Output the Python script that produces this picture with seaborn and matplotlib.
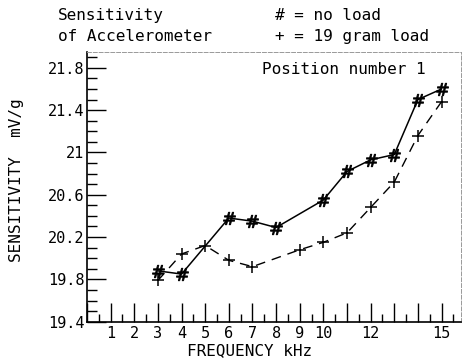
import matplotlib
matplotlib.use("Agg")
import matplotlib.pyplot as plt
import seaborn as sns
import pandas as pd
from matplotlib.ticker import FixedLocator, FixedFormatter, MultipleLocator

# Data
freq_noload = [3, 4, 6, 7, 8, 10, 11, 12, 13, 14, 15]
sens_noload = [19.88, 19.85, 20.38, 20.35, 20.29, 20.55, 20.82, 20.93, 20.98, 21.50, 21.60]
freq_load = [3, 4, 5, 6, 7, 9, 10, 11, 12, 13, 14, 15]
sens_load = [19.79, 20.04, 20.12, 19.98, 19.92, 20.08, 20.15, 20.24, 20.48, 20.72, 21.16, 21.48]

xtick_vals = list(range(0, 16))
xtick_labels = ["", "1", "2", "3", "4", "5", "6", "7", "8", "9", "10", "", "12", "", "", "15"]
ytick_vals = [19.4, 19.8, 20.2, 20.6, 21.0, 21.4, 21.8]
ytick_labels = ["19.4", "19.8", "20.2", "20.6", "21", "21.4", "21.8"]

sns.set_style("white")
plt.rcParams["font.family"] = ["DejaVu Sans Mono", "DejaVu Sans"]
plt.rcParams["text.color"] = "black"
plt.rcParams["xtick.color"] = "black"
plt.rcParams["ytick.color"] = "black"
plt.rcParams["axes.labelcolor"] = "black"

df_a = pd.DataFrame({"f": freq_noload, "s": sens_noload})
df_b = pd.DataFrame({"f": freq_load, "s": sens_load})

fig = plt.figure(figsize=(4.63, 3.61), dpi=100)
ax = fig.add_axes([0.188, 0.109, 0.808, 0.747])

sns.lineplot(data=df_a, x="f", y="s", ax=ax, color="black", lw=1.1,
             marker=r"$\#$", markersize=9, markeredgewidth=0.6,
             markeredgecolor="black", markerfacecolor="black")
sns.lineplot(data=df_b, x="f", y="s", ax=ax, color="black", lw=1.0,
             linestyle=(0, (7, 5)), marker="+", markersize=8,
             markeredgewidth=1.1, markeredgecolor="black")

ax.set_xlim(0, 15.83)
ax.set_ylim(19.4, 21.95)

ax.xaxis.set_major_locator(FixedLocator(xtick_vals))
ax.xaxis.set_major_formatter(FixedFormatter(xtick_labels))
ax.xaxis.set_minor_locator(MultipleLocator(0.5))
ax.yaxis.set_major_locator(FixedLocator(ytick_vals))
ax.yaxis.set_major_formatter(FixedFormatter(ytick_labels))
ax.yaxis.set_minor_locator(MultipleLocator(0.1))

ax.tick_params(axis="both", which="both", bottom=True, left=True, top=False, right=False)
ax.tick_params(axis="x", which="major", direction="in", length=14, width=1.0,
               labelsize=11, pad=3, color="black", labelcolor="black")
ax.tick_params(axis="x", which="minor", direction="in", length=6, width=1.0, color="black")
ax.tick_params(axis="y", which="major", direction="in", length=14, width=1.0,
               labelsize=11, pad=2, color="black", labelcolor="black")
ax.tick_params(axis="y", which="minor", direction="in", length=7, width=1.0, color="black")

for side in ("left", "bottom"):
    ax.spines[side].set_color("black")
    ax.spines[side].set_linewidth(1.2)
for side in ("top", "right"):
    ax.spines[side].set_color("#999999")
    ax.spines[side].set_linewidth(0.7)
    ax.spines[side].set_linestyle((0, (4, 2)))

ax.set_xlabel("")
ax.set_ylabel("")
ax.grid(False)

fig.text(0.54, 0.03, "FREQUENCY kHz", ha="center", va="center", fontsize=11.5, color="black")
fig.text(0.035, 0.50, "SENSITIVITY  mV/g", ha="center", va="center",
         rotation=90, fontsize=11.5, color="black")
ax.text(0.905, 0.935, "Position number 1", transform=ax.transAxes,
        ha="right", va="center", fontsize=11.5, color="black")

fig.text(0.125, 0.958, "Sensitivity", ha="left", va="center", fontsize=11.5, color="black")
fig.text(0.125, 0.900, "of Accelerometer", ha="left", va="center", fontsize=11.5, color="black")
fig.text(0.595, 0.958, "# = no load", ha="left", va="center", fontsize=11.5, color="black")
fig.text(0.595, 0.900, "+ = 19 gram load", ha="left", va="center", fontsize=11.5, color="black")

fig.savefig("out.png", dpi=100)
